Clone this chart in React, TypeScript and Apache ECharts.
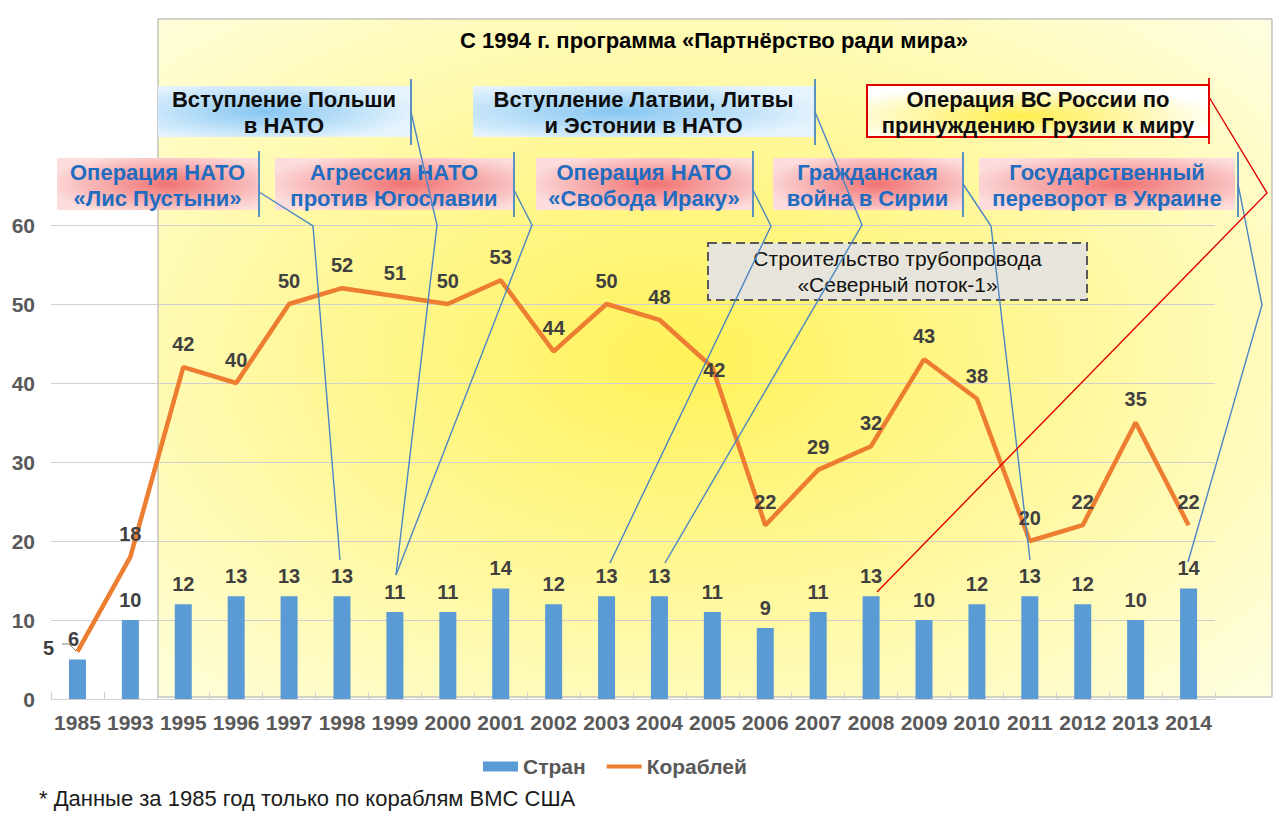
import React, { useEffect, useRef } from "react";
import * as echarts from "echarts";

// ---- data ----
const years = ["1985", "1993", "1995", "1996", "1997", "1998", "1999", "2000", "2001", "2002", "2003", "2004", "2005", "2006", "2007", "2008", "2009", "2010", "2011", "2012", "2013", "2014"];
const countries = [5, 10, 12, 13, 13, 13, 11, 11, 14, 12, 13, 13, 11, 9, 11, 13, 10, 12, 13, 12, 10, 14];
const ships = [6, 18, 42, 40, 50, 52, 51, 50, 53, 44, 50, 48, 42, 22, 29, 32, 43, 38, 20, 22, 35, 22];
const seriesNames = ["Стран", "Кораблей"];
const yMin = 0;
const yMax = 60;
const yStep = 10;
const titleText = "С 1994 г. программа «Партнёрство ради мира»";
const footnoteText = "* Данные за 1985 год только по кораблям ВМС США";

const blueNotes = ["Вступление Польши\nв НАТО", "Вступление Латвии, Литвы\nи Эстонии в НАТО"];
const redNotes = ["Операция НАТО\n«Лис Пустыни»", "Агрессия НАТО\nпротив Югославии", "Операция НАТО\n«Свобода Ираку»", "Гражданская\nвойна в Сирии", "Государственный\nпереворот в Украине"];
const georgiaNote = "Операция ВС России по\nпринуждению Грузии к миру";
const pipelineNote = "Строительство трубопровода\n«Северный поток-1»";

// ---- layout (annotation geometry) ----
const blueBoxes = [
  { rect: [158, 86, 252, 51], bar: [411, 79, 145], path: [[411, 112], [437, 225], [396, 575]] },
  { rect: [473, 86, 341, 51], bar: [815, 79, 145], path: [[815, 112], [862, 225], [665, 563]] },
];
const redBoxes = [
  { rect: [57, 158, 201, 52], bar: [259, 151, 217], path: [[259, 192], [313, 226], [340, 560]] },
  { rect: [275, 158, 238, 52], bar: [514, 152, 217], path: [[514, 190], [532, 225], [396, 575]] },
  { rect: [536, 158, 216, 52], bar: [753, 151, 217], path: [[753, 190], [771, 226], [610, 563]] },
  { rect: [773, 158, 189, 52], bar: [963, 152, 217], path: [[963, 184], [991, 226], [1030, 560]] },
  { rect: [979, 158, 256, 52], bar: [1238, 152, 217], path: [[1238, 184], [1262, 305], [1188, 562]] },
];
const georgiaBox = { rect: [867, 85, 342, 52], bar: [1209, 78, 144], path: [[1209, 97], [1267, 193], [877, 592]] };
const pipelineBox = [708, 243, 379, 57];

const FONT = "'Liberation Sans', Arial, sans-serif";
const LINE_BLUE = "#4A86C5";

function rg(stops: [number, string][], cx = 0.5, cy = 0.5, r = 0.5) {
  return new echarts.graphic.RadialGradient(cx, cy, r, stops.map(([offset, color]) => ({ offset, color })));
}

function textEl(text: string, x: number, y: number, font: string, fill: string, lineHeight = 25, z = 20): any {
  return {
    type: "text",
    x,
    y,
    z,
    style: {
      text,
      font,
      fill,
      lineHeight,
      align: "center",
      verticalAlign: "middle",
      textAlign: "center",
      textVerticalAlign: "middle",
    },
  };
}

function buildGraphics(): any[] {
  const els: any[] = [];
  // yellow background panel
  els.push({
    type: "rect",
    z: -10,
    shape: { x: 158, y: 19, width: 1114, height: 678 },
    style: {
      fill: rg([[0, "#FFF258"], [0.55, "#FFF9A8"], [1, "#FFFFE6"]], 0.47, 0.5, 0.75),
      stroke: "#A6A6A6",
      lineWidth: 1,
    },
  });
  els.push(textEl(titleText, 714, 40, `bold 22px ${FONT}`, "#000000"));

  // pipeline box
  els.push({
    type: "rect",
    z: 10,
    shape: { x: pipelineBox[0], y: pipelineBox[1], width: pipelineBox[2], height: pipelineBox[3] },
    style: { fill: "#E7E5DB", stroke: "#595959", lineWidth: 2, lineDash: [9, 5] },
  });
  els.push(textEl(pipelineNote, pipelineBox[0] + pipelineBox[2] / 2, pipelineBox[1] + pipelineBox[3] / 2, `21px ${FONT}`, "#111111", 26, 11));

  blueBoxes.forEach((b, i) => {
    const [x, y, w, h] = b.rect;
    els.push({
      type: "rect",
      z: 12,
      shape: { x, y, width: w, height: h },
      style: { fill: rg([[0, "#86C6F2"], [1, "#E4F3FD"]], 0.42, 0.5, 0.6) },
    });
    els.push(textEl(blueNotes[i], x + w / 2, y + h / 2 + 1, `bold 22px ${FONT}`, "#0D0D0D", 26, 13));
  });

  redBoxes.forEach((b, i) => {
    const [x, y, w, h] = b.rect;
    els.push({
      type: "rect",
      z: 12,
      shape: { x, y, width: w, height: h },
      style: { fill: rg([[0, "#F27272"], [1, "#FCDCDC"]], 0.55, 0.5, 0.6) },
    });
    els.push(textEl(redNotes[i], x + w / 2, y + h / 2 + 1, `bold 22px ${FONT}`, "#1F6CC0", 26, 13));
  });

  {
    const [x, y, w, h] = georgiaBox.rect;
    els.push({
      type: "rect",
      z: 12,
      shape: { x, y, width: w, height: h },
      style: { fill: rg([[0, "#FFEE4A"], [1, "#FFFFFF"]], 0.45, 0.6, 0.6), stroke: "#E00000", lineWidth: 2 },
    });
    els.push(textEl(georgiaNote, x + w / 2, y + h / 2 + 1, `bold 22px ${FONT}`, "#0D0D0D", 26, 13));
  }

  const connectors: any[] = [...blueBoxes, ...redBoxes].map((b) => ({ ...b, color: LINE_BLUE }));
  connectors.push({ ...georgiaBox, color: "#E00000" });
  connectors.forEach((c: any) => {
    els.push({
      type: "line",
      z: 15,
      shape: { x1: c.bar[0], y1: c.bar[1], x2: c.bar[0], y2: c.bar[2] },
      style: { stroke: c.color, lineWidth: 1.8 },
    });
    els.push({
      type: "polyline",
      z: 15,
      shape: { points: c.path },
      style: { stroke: c.color, lineWidth: 1.4, fill: null },
    });
  });

  // leader line for 1985 bar label
  els.push({
    type: "polyline",
    z: 15,
    shape: { points: [[62, 644], [69, 644], [76, 651]] },
    style: { stroke: "#808080", lineWidth: 1, fill: null },
  });

  els.push({
    type: "text",
    x: 39,
    y: 798,
    z: 20,
    style: {
      text: footnoteText,
      font: `22px ${FONT}`,
      fill: "#1A1A1A",
      align: "left",
      verticalAlign: "middle",
      textAlign: "left",
      textVerticalAlign: "middle",
    },
  });
  return els;
}

export default function App() {
  const ref = useRef<HTMLDivElement>(null);
  useEffect(() => {
    if (!ref.current) return;
    const chart = echarts.init(ref.current, undefined, { renderer: "svg" });
    const labelCommon = { show: true, color: "#404040", fontSize: 20, fontWeight: "bold" as const, fontFamily: FONT };
    const barData = countries.map((v, i) =>
      i === 0 ? { value: v, label: { offset: [-29, 8] } } : v
    );
    const lineData = ships.map((v, i) => {
      if (i === 0) return { value: v, label: { offset: [-4, 10] } };
      if (i === 12) return { value: v, label: { offset: [2, 26] } };
      return v;
    });
    chart.setOption({
      animation: false,
      backgroundColor: "#ffffff",
      grid: { left: 51, right: 65, top: 225, bottom: 125 },
      legend: {
        left: 478,
        top: 751,
        itemWidth: 35,
        itemHeight: 10,
        itemGap: 21,
        textStyle: { fontFamily: FONT, fontSize: 21, fontWeight: "bold", color: "#595959" },
        data: [
          { name: seriesNames[0], icon: "rect" },
          { name: seriesNames[1], icon: "path://M0,0H35V4H0Z" },
        ],
      },
      xAxis: {
        type: "category",
        data: years,
        axisLine: { lineStyle: { color: "#D0D0D0", width: 1 } },
        axisTick: { show: true, inside: true, length: 7, lineStyle: { color: "#D0D0D0" } },
        axisLabel: { fontFamily: FONT, fontSize: 21, fontWeight: "bold", color: "#595959", margin: 13, interval: 0 },
      },
      yAxis: {
        type: "value",
        min: yMin,
        max: yMax,
        interval: yStep,
        axisLine: { show: false },
        axisTick: { show: false },
        splitLine: { lineStyle: { color: "#D0D0D0", width: 1 } },
        axisLabel: { fontFamily: FONT, fontSize: 21, fontWeight: "bold", color: "#595959", margin: 16 },
      },
      series: [
        {
          name: seriesNames[0],
          type: "bar",
          data: barData,
          barWidth: 17,
          itemStyle: { color: "#5B9BD5" },
          label: { ...labelCommon, position: "top", distance: 10 },
          z: 3,
        },
        {
          name: seriesNames[1],
          type: "line",
          data: lineData,
          symbol: "circle",
          symbolSize: 0.1,
          showSymbol: true,
          lineStyle: { color: "#ED7D31", width: 4.5 },
          itemStyle: { color: "#ED7D31" },
          label: { ...labelCommon, position: "top", distance: 13 },
          z: 4,
        },
      ],
      graphic: { elements: buildGraphics() },
    });
    return () => chart.dispose();
  }, []);
  return (
    <div
      ref={ref}
      style={{ position: "fixed", left: 0, top: 0, width: 1280, height: 824 }}
    />
  );
}
